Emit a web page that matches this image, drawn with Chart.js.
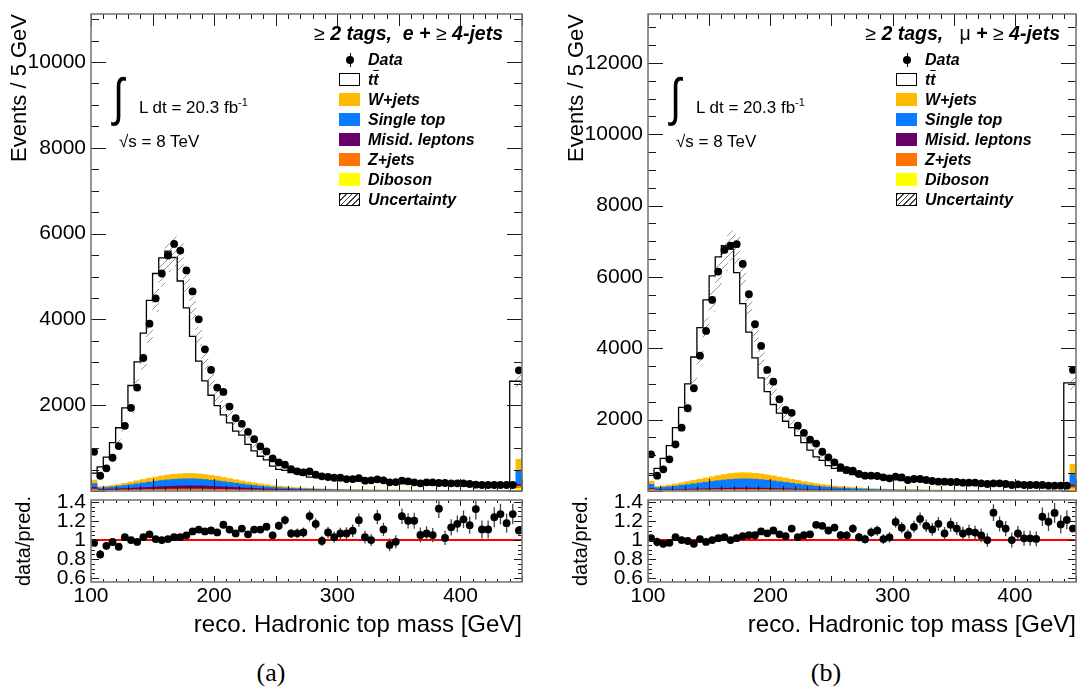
<!DOCTYPE html>
<html>
<head>
<meta charset="utf-8">
<script src="https://cdn.jsdelivr.net/npm/chart.js@4.4.1/dist/chart.umd.min.js"></script>
<style>
  body { margin: 0; background: #fff; width: 1080px; height: 690px; overflow: hidden; position: relative;
         font-family: "Liberation Sans", Arial, sans-serif; color: #000; }
  .panel { position: absolute; top: 0; width: 540px; height: 690px; }
  .panel canvas { position: absolute; left: 0; }
  .lab { position: absolute; white-space: nowrap; line-height: 20px; }
  .ttl { font-size: 19.5px; text-align: right; }
  .ttl b { font-weight: bold; font-style: italic; }
  .leg { font-size: 16px; font-weight: bold; font-style: italic; left: 368px; }
  .box { position: absolute; left: 339px; width: 21px; height: 13px; }
  .dot { position: absolute; left: 346px; width: 8px; height: 8px; border-radius: 50%; background: #000; }
  .bar { position: absolute; left: 349.5px; width: 1px; height: 14px; background: #000; }
  .info { font-size: 17px; }
  .integral { font-family: "Liberation Sans", sans-serif; font-size: 40px; line-height: 44px;
              transform: scaleY(1.3); transform-origin: 50% 50%; }
  .cap { font-family: "Liberation Serif", serif; font-size: 26px; width: 60px; text-align: center; }
</style>
</head>
<body>

<div class="panel" id="panelE" style="left:0">
  <canvas class="main" width="540" height="500" style="top:0"></canvas>
  <canvas class="ratio" width="540" height="160" style="top:490px"></canvas>
  <div class="lab ttl" style="right:37px; top:23px">≥ <b>2 tags,&nbsp; e + </b>≥ <b>4-jets</b></div>
  <div class="lab integral" style="left:113px; top:75px">∫</div>
  <div class="lab info" style="left:139px; top:92px">L dt = 20.3 fb<sup style="font-size:11px">-1</sup></div>
  <div class="lab info" style="left:119px; top:132px">√s = 8 TeV</div>
  <div class="dot" style="top:56px"></div><div class="bar" style="top:53px"></div>
  <div class="lab leg" style="top:50px">Data</div>
  <div class="box" style="top:73px; background:#fff; border:1px solid #000; width:19px; height:11px"></div>
  <div class="lab leg" style="top:70px">t<span style="text-decoration:overline">t</span></div>
  <div class="box" style="top:93px; background:#ffbb00"></div>
  <div class="lab leg" style="top:90px">W+jets</div>
  <div class="box" style="top:113px; background:#0a7bff"></div>
  <div class="lab leg" style="top:110px">Single top</div>
  <div class="box" style="top:133px; background:#660066"></div>
  <div class="lab leg" style="top:130px">Misid. leptons</div>
  <div class="box" style="top:153px; background:#ff7400"></div>
  <div class="lab leg" style="top:150px">Z+jets</div>
  <div class="box" style="top:173px; background:#ffff00"></div>
  <div class="lab leg" style="top:170px">Diboson</div>
  <div class="box" style="top:193px; width:19px; height:11px; border:1px solid #000; background:repeating-linear-gradient(135deg, #444 0 1px, #fff 1px 4px)"></div>
  <div class="lab leg" style="top:190px">Uncertainty</div>
  <div class="lab cap" style="left:241px; top:663px">(a)</div>
</div>

<div class="panel" id="panelM" style="left:557px">
  <canvas class="main" width="540" height="500" style="top:0"></canvas>
  <canvas class="ratio" width="540" height="160" style="top:490px"></canvas>
  <div class="lab ttl" style="right:37px; top:23px">≥ <b>2 tags,&nbsp;&nbsp;</b> μ <b>+ </b>≥ <b>4-jets</b></div>
  <div class="lab integral" style="left:113px; top:75px">∫</div>
  <div class="lab info" style="left:139px; top:92px">L dt = 20.3 fb<sup style="font-size:11px">-1</sup></div>
  <div class="lab info" style="left:119px; top:132px">√s = 8 TeV</div>
  <div class="dot" style="top:56px"></div><div class="bar" style="top:53px"></div>
  <div class="lab leg" style="top:50px">Data</div>
  <div class="box" style="top:73px; background:#fff; border:1px solid #000; width:19px; height:11px"></div>
  <div class="lab leg" style="top:70px">t<span style="text-decoration:overline">t</span></div>
  <div class="box" style="top:93px; background:#ffbb00"></div>
  <div class="lab leg" style="top:90px">W+jets</div>
  <div class="box" style="top:113px; background:#0a7bff"></div>
  <div class="lab leg" style="top:110px">Single top</div>
  <div class="box" style="top:133px; background:#660066"></div>
  <div class="lab leg" style="top:130px">Misid. leptons</div>
  <div class="box" style="top:153px; background:#ff7400"></div>
  <div class="lab leg" style="top:150px">Z+jets</div>
  <div class="box" style="top:173px; background:#ffff00"></div>
  <div class="lab leg" style="top:170px">Diboson</div>
  <div class="box" style="top:193px; width:19px; height:11px; border:1px solid #000; background:repeating-linear-gradient(135deg, #444 0 1px, #fff 1px 4px)"></div>
  <div class="lab leg" style="top:190px">Uncertainty</div>
  <div class="lab cap" style="left:239px; top:663px">(b)</div>
</div>

<script>
// binning of the reconstructed hadronic top mass, last bin holds the overflow
const xMin = 100, xMax = 450, binWidth = 5;

// e + jets channel
const dataE = [914, 356, 528, 775, 1047, 1519, 1938, 2411, 3101, 3900,
  4489, 5071, 5490, 5761, 5606, 5141, 4652, 4001, 3303, 2822,
  2411, 2310, 1969, 1698, 1566, 1380, 1209, 1039, 923, 760,
  667, 612, 512, 458, 435, 458, 380, 342, 326, 309,
  309, 279, 279, 302, 240, 249, 272, 249, 202, 209,
  240, 226, 202, 179, 202, 202, 186, 186, 179, 179,
  179, 163, 147, 140, 140, 140, 140, 140, 140, 2814];
const predE = [942, 419, 562, 791, 1126, 1475, 1938, 2460, 3011, 3679,
  4445, 5071, 5436, 5593, 5443, 4896, 4268, 3605, 3030, 2565,
  2232, 1991, 1774, 1587, 1398, 1302, 1089, 936, 810, 724,
  580, 506, 479, 428, 403, 366, 325, 345, 302, 300,
  289, 261, 254, 250, 233, 249, 219, 224, 213, 213,
  192, 188, 168, 170, 189, 192, 140, 182, 158, 153,
  147, 141, 111, 126, 126, 113, 110, 119, 110, 2558];
const wjetsE = [80, 25, 30, 35, 42, 50, 60, 70, 80, 90,
  98, 106, 112, 118, 122, 124, 124, 122, 118, 112,
  105, 97, 89, 81, 73, 65, 58, 51, 45, 40,
  35, 31, 27, 24, 21, 19, 17, 15, 13, 12,
  11, 10, 9, 8, 8, 7, 7, 6, 6, 5,
  5, 5, 4, 4, 4, 4, 3, 3, 3, 3,
  3, 3, 3, 2, 2, 2, 2, 2, 2, 266];
const stopE = [90, 35, 42, 50, 60, 72, 85, 98, 110, 122,
  134, 144, 152, 158, 162, 164, 162, 158, 151, 142,
  132, 121, 110, 99, 88, 78, 69, 60, 52, 45,
  39, 34, 29, 25, 22, 19, 17, 15, 13, 12,
  11, 10, 9, 8, 8, 7, 7, 6, 6, 6,
  5, 5, 5, 5, 4, 4, 4, 4, 4, 3,
  3, 3, 3, 3, 3, 3, 3, 3, 3, 318];
const misidE = [40, 20, 22, 25, 28, 32, 36, 40, 45, 50,
  55, 60, 64, 68, 72, 74, 75, 74, 72, 68,
  64, 60, 55, 50, 45, 40, 36, 32, 28, 25,
  22, 20, 18, 16, 14, 13, 12, 11, 10, 9,
  8, 8, 7, 7, 6, 6, 6, 5, 5, 5,
  5, 4, 4, 4, 4, 4, 3, 3, 3, 3,
  3, 3, 3, 3, 2, 2, 2, 2, 2, 39];
const zjetsE = [30, 12, 13, 14, 16, 18, 20, 22, 24, 26,
  28, 30, 32, 33, 34, 35, 35, 34, 33, 31,
  29, 27, 25, 23, 21, 19, 17, 15, 13, 12,
  11, 10, 9, 8, 7, 7, 6, 6, 5, 5,
  5, 4, 4, 4, 4, 3, 3, 3, 3, 3,
  3, 3, 3, 2, 2, 2, 2, 2, 2, 2,
  2, 2, 2, 2, 2, 2, 2, 2, 2, 54];
const dibosonE = [15, 6, 6, 7, 7, 8, 8, 9, 9, 10,
  10, 11, 11, 12, 12, 12, 12, 12, 12, 11,
  11, 10, 10, 9, 9, 8, 8, 7, 7, 6,
  6, 6, 5, 5, 5, 5, 4, 4, 4, 4,
  4, 4, 3, 3, 3, 3, 3, 3, 3, 3,
  3, 3, 2, 2, 2, 2, 2, 2, 2, 2,
  2, 2, 2, 2, 2, 2, 2, 2, 2, 63];

// mu + jets channel
const dataM = [1029, 429, 608, 889, 1309, 1775, 2319, 2880, 3794, 4486,
  5356, 6149, 6758, 6878, 6917, 6365, 5515, 4674, 4066, 3393,
  3065, 2571, 2271, 2190, 1830, 1630, 1440, 1330, 1100, 945,
  805, 665, 589, 570, 477, 429, 429, 421, 384, 356,
  402, 384, 308, 336, 336, 308, 280, 261, 261, 252,
  252, 233, 233, 233, 215, 196, 215, 215, 196, 168,
  187, 168, 168, 168, 168, 149, 149, 149, 149, 3393];
const predM = [1009, 438, 633, 916, 1271, 1775, 2342, 3000, 3756, 4578,
  5356, 6028, 6561, 6878, 6781, 6120, 5252, 4451, 3730, 3171,
  2786, 2425, 2184, 1955, 1777, 1552, 1358, 1147, 957, 859,
  712, 633, 561, 509, 463, 425, 397, 383, 380, 346,
  338, 340, 293, 295, 275, 268, 252, 223, 244, 217,
  225, 218, 214, 216, 205, 196, 167, 184, 175, 168,
  175, 165, 165, 166, 135, 125, 116, 128, 123, 3029];
const wjetsM = [90, 35, 42, 50, 60, 70, 82, 94, 106, 118,
  130, 142, 154, 164, 170, 172, 170, 165, 158, 150,
  141, 131, 120, 109, 98, 88, 78, 69, 61, 54,
  47, 41, 36, 31, 27, 24, 21, 18, 16, 14,
  13, 12, 11, 10, 9, 8, 8, 7, 7, 6,
  6, 5, 5, 5, 4, 4, 4, 4, 3, 3,
  3, 3, 3, 3, 3, 3, 2, 2, 2, 260];
const stopM = [120, 60, 70, 82, 96, 112, 130, 148, 166, 184,
  202, 218, 232, 244, 252, 256, 254, 248, 238, 225,
  210, 194, 177, 160, 143, 127, 112, 98, 86, 75,
  65, 57, 50, 44, 38, 33, 29, 26, 23, 20,
  18, 16, 14, 13, 12, 11, 10, 9, 8, 8,
  7, 7, 6, 6, 6, 5, 5, 5, 5, 4,
  4, 4, 4, 4, 4, 3, 3, 3, 3, 320];
const misidM = [25, 15, 16, 17, 18, 20, 22, 24, 26, 28,
  30, 32, 34, 36, 37, 38, 38, 37, 36, 34,
  32, 30, 28, 26, 24, 22, 20, 18, 16, 14,
  13, 12, 11, 10, 9, 8, 7, 7, 6, 6,
  5, 5, 5, 4, 4, 4, 4, 3, 3, 3,
  3, 3, 3, 3, 2, 2, 2, 2, 2, 2,
  2, 2, 2, 2, 2, 2, 2, 2, 2, 45];
const zjetsM = [25, 10, 11, 12, 14, 16, 18, 20, 22, 24,
  26, 28, 30, 31, 32, 33, 33, 32, 31, 29,
  27, 25, 23, 21, 19, 17, 15, 13, 12, 11,
  10, 9, 8, 7, 7, 6, 6, 5, 5, 5,
  4, 4, 4, 4, 3, 3, 3, 3, 3, 3,
  3, 2, 2, 2, 2, 2, 2, 2, 2, 2,
  2, 2, 2, 2, 2, 2, 2, 2, 2, 60];
const dibosonM = [18, 8, 8, 9, 9, 10, 10, 11, 11, 12,
  12, 13, 13, 14, 14, 14, 14, 14, 14, 13,
  13, 12, 12, 11, 11, 10, 10, 9, 9, 8,
  8, 7, 7, 6, 6, 6, 5, 5, 5, 5,
  4, 4, 4, 4, 4, 3, 3, 3, 3, 3,
  3, 3, 3, 3, 2, 2, 2, 2, 2, 2,
  2, 2, 2, 2, 2, 2, 2, 2, 2, 60];

// axis ticks
const yTicksE = [2000, 4000, 6000, 8000, 10000];
const yTicksM = [2000, 4000, 6000, 8000, 10000, 12000];
const ratioTicks = [0.6, 0.8, 1, 1.2, 1.4];
const xTicks = [100, 200, 300, 400];
const uncFrac = 0.06;   // relative size of the hatched prediction band

const colours = { wjets: '#ffbb00', stop: '#0a7bff', misid: '#660066', zjets: '#ff7400', diboson: '#ffff00' };
const FONT = "'Liberation Sans', Arial, sans-serif";

Chart.defaults.font.family = FONT;
Chart.defaults.color = '#000';
Chart.defaults.animation = false;

// frame and inward ticks on all four sides, ROOT style
const rootFrame = {
  id: 'rootFrame',
  afterDraw(chart, args, o) {
    const { ctx, chartArea: a } = chart;
    const sx = chart.scales.x, sy = chart.scales.y;
    const isMult = (v, m) => Math.abs(v / m - Math.round(v / m)) < 1e-6;
    ctx.save();
    ctx.strokeStyle = '#1a1a1a';
    ctx.lineWidth = 1;
    ctx.beginPath();
    for (let k = Math.ceil(sx.min / o.xMinor - 1e-6); k * o.xMinor <= sx.max + 1e-6; k++) {
      const v = k * o.xMinor;
      const p = Math.round(sx.getPixelForValue(v)) + 0.5;
      const len = isMult(v, o.xMajor) ? o.xLen[1] : o.xLen[0];
      ctx.moveTo(p, a.bottom); ctx.lineTo(p, a.bottom - len);
      ctx.moveTo(p, a.top); ctx.lineTo(p, a.top + len);
    }
    for (let k = Math.ceil(sy.min / o.yMinor - 1e-6); k * o.yMinor <= sy.max + 1e-6; k++) {
      const v = k * o.yMinor;
      const p = Math.round(sy.getPixelForValue(v)) + 0.5;
      const len = isMult(v, o.yMajor) ? o.yLen[1] : o.yLen[0];
      ctx.moveTo(a.left, p); ctx.lineTo(a.left + len, p);
      ctx.moveTo(a.right, p); ctx.lineTo(a.right - len, p);
    }
    ctx.stroke();
    ctx.strokeStyle = '#7a7a7a';
    ctx.lineWidth = 1.6;
    ctx.strokeRect(a.left, a.top, a.right - a.left, a.bottom - a.top);
    ctx.restore();
  }
};

// fixed axis box, labels may stick out past the frame
const fixWidth = w => s => { s.width = w; s.paddingTop = 0; s.paddingBottom = 0; };
const fixHeight = h => s => { s.height = h; s.paddingLeft = 0; s.paddingRight = 0; };

function hatch() {
  const c = document.createElement('canvas');
  c.width = 7; c.height = 7;
  const g = c.getContext('2d');
  g.strokeStyle = '#666';
  g.lineWidth = 0.7;
  g.beginPath();
  g.moveTo(0, 7); g.lineTo(7, 0);
  g.moveTo(-1, 1); g.lineTo(1, -1);
  g.moveTo(6, 8); g.lineTo(8, 6);
  g.stroke();
  return g.createPattern(c, 'repeat');
}

function buildPanel(el, ch) {
  const centres = ch.data.map((_, i) => xMin + (i + 0.5) * binWidth);
  const pts = arr => arr.map((v, i) => ({ x: centres[i], y: v }));
  const errSegs = vals => vals.flatMap((p, i) => [
    { x: centres[i], y: p[0] }, { x: centres[i], y: p[1] }, { x: centres[i], y: null }]);

  const stack = [
    ['Diboson', ch.diboson, colours.diboson],
    ['Z+jets', ch.zjets, colours.zjets],
    ['Misid. leptons', ch.misid, colours.misid],
    ['Single top', ch.stop, colours.stop],
    ['W+jets', ch.wjets, colours.wjets]
  ].map(([label, v, c]) => ({
    type: 'bar', label, data: pts(v), backgroundColor: c, borderWidth: 0,
    grouped: false, barPercentage: 1, categoryPercentage: 1, yAxisID: 'y', stack: 'bkg', order: 5
  }));

  // outline of the full prediction (tt̄ on top of the backgrounds)
  const step = [{ x: xMin, y: 0 }]
    .concat(ch.pred.map((v, i) => ({ x: xMin + i * binWidth, y: v })))
    .concat([{ x: xMax, y: ch.pred[ch.pred.length - 1] }, { x: xMax, y: 0 }]);

  const band = ch.pred.map((v, i) => ({ x: centres[i], y: [v * (1 - uncFrac), v * (1 + uncFrac)] }));
  const dataErr = errSegs(ch.data.map(v => [v - Math.sqrt(v), v + Math.sqrt(v)]));

  new Chart(el.querySelector('.main'), {
    type: 'bar',
    data: {
      datasets: stack.concat([
        { type: 'line', label: 'tt̄', data: step, stepped: 'after', borderColor: '#000', borderWidth: 1.3,
          pointRadius: 0, fill: false, yAxisID: 'y2', order: 4 },
        { type: 'bar', label: 'Uncertainty', data: band, backgroundColor: hatch(), borderWidth: 0,
          grouped: false, barPercentage: 1, categoryPercentage: 1, yAxisID: 'y2', order: 3 },
        { type: 'line', label: 'Data err', data: dataErr, borderColor: '#000', borderWidth: 1.2,
          pointRadius: 0, spanGaps: false, yAxisID: 'y2', order: 2 },
        { type: 'line', label: 'Data', data: pts(ch.data), showLine: false, pointRadius: 3.9,
          pointBackgroundColor: '#000', pointBorderWidth: 0, yAxisID: 'y2', order: 1 }
      ])
    },
    options: {
      responsive: false, devicePixelRatio: 1, events: [],
      layout: { padding: { left: 0, right: ch.padRight, top: 14, bottom: 9 } },
      plugins: { legend: { display: false }, tooltip: { enabled: false },
        rootFrame: { xMinor: 10, xMajor: 50, xLen: [5, 12], yMinor: 500, yMajor: 2000, yLen: [8, 15] } },
      scales: {
        x: { type: 'linear', min: xMin, max: xMax, offset: false, display: false },
        y: { type: 'linear', stacked: true, min: 0, max: ch.yMax, position: 'left',
          grid: { display: false, drawTicks: false }, border: { display: false },
          ticks: { font: { size: 21 }, color: '#000', padding: 5, autoSkip: false, callback: v => String(v) },
          afterBuildTicks: s => { s.ticks = ch.yTicks.map(v => ({ value: v })); },
          afterFit: fixWidth(91),
          title: { display: true, text: 'Events / 5 GeV', align: 'end', font: { size: 22 }, color: '#000', padding: { top: 7, bottom: 0 } } },
        y2: { type: 'linear', display: false, min: 0, max: ch.yMax }
      }
    },
    plugins: [rootFrame]
  });

  const ratio = ch.data.map((v, i) => v / ch.pred[i]);
  const ratioErr = errSegs(ch.data.map((v, i) => [ratio[i] - Math.sqrt(v) / ch.pred[i], ratio[i] + Math.sqrt(v) / ch.pred[i]]));

  new Chart(el.querySelector('.ratio'), {
    type: 'line',
    data: {
      datasets: [
        { label: 'unity', data: [{ x: xMin, y: 1 }, { x: xMax, y: 1 }], borderColor: '#ff0000', borderWidth: 2, pointRadius: 0, order: 3 },
        { label: 'ratio err', data: ratioErr, borderColor: '#444', borderWidth: 1.3, pointRadius: 0, spanGaps: false, order: 2 },
        { label: 'ratio', data: pts(ratio), showLine: false, pointRadius: 3.9, pointBackgroundColor: '#000', pointBorderWidth: 0, order: 1 }
      ]
    },
    options: {
      responsive: false, devicePixelRatio: 1, events: [],
      layout: { padding: { left: 0, right: ch.padRight, top: 10, bottom: 0 } },
      plugins: { legend: { display: false }, tooltip: { enabled: false },
        rootFrame: { xMinor: 10, xMajor: 50, xLen: [3, 6], yMinor: 0.05, yMajor: 0.2, yLen: [4, 8] } },
      scales: {
        x: { type: 'linear', min: xMin, max: xMax, offset: false,
          grid: { display: false, drawTicks: false }, border: { display: false },
          ticks: { font: { size: 21 }, color: '#000', padding: 2, maxRotation: 0, autoSkip: false, callback: v => String(v) },
          afterBuildTicks: s => { s.ticks = xTicks.map(v => ({ value: v })); },
          afterFit: fixHeight(68),
          title: { display: true, text: 'reco. Hadronic top mass [GeV]', align: 'end', font: { size: 24 }, color: '#000', padding: { top: 0, bottom: 10.6 } } },
        y: { type: 'linear', min: 0.56, max: 1.42, position: 'left',
          grid: { display: false, drawTicks: false }, border: { display: false },
          ticks: { font: { size: 21 }, color: '#000', padding: 5, autoSkip: false, callback: v => String(+v.toFixed(1)) },
          afterBuildTicks: s => { s.ticks = ratioTicks.map(v => ({ value: v })); },
          afterFit: fixWidth(91),
          title: { display: true, text: 'data/pred.', align: 'center', font: { size: 20 }, color: '#000', padding: { top: 12, bottom: 0 } } }
      }
    },
    plugins: [rootFrame]
  });
}

buildPanel(document.getElementById('panelE'), {
  data: dataE, pred: predE, wjets: wjetsE, stop: stopE, misid: misidE, zjets: zjetsE, diboson: dibosonE,
  yMax: 11120, yTicks: yTicksE, padRight: 18
});
buildPanel(document.getElementById('panelM'), {
  data: dataM, pred: predM, wjets: wjetsM, stop: stopM, misid: misidM, zjets: zjetsM, diboson: dibosonM,
  yMax: 13370, yTicks: yTicksM, padRight: 21
});
</script>
</body>
</html>
